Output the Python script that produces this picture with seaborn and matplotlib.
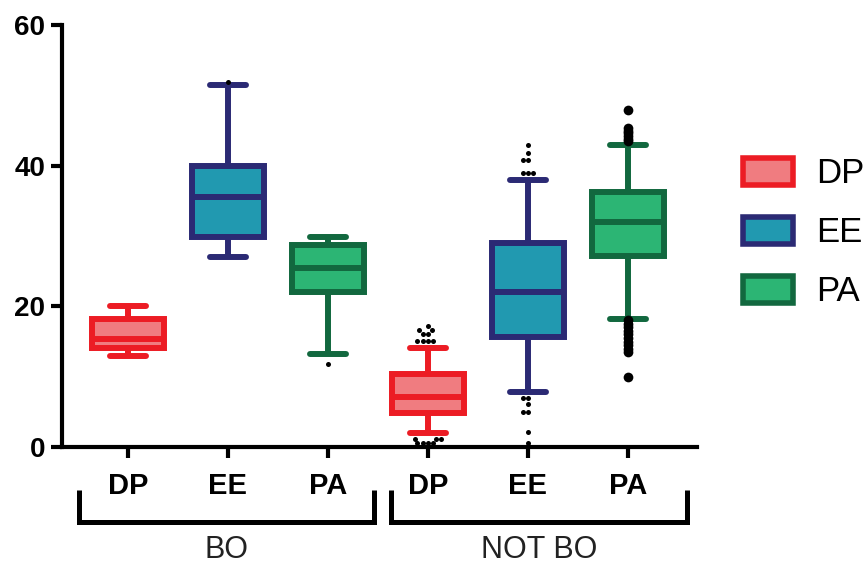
import pandas as pd
import matplotlib.pyplot as plt
from matplotlib.patches import Patch
import seaborn as sns

# ─── DATA ───────────────────────────────────────────────────────
GROUPS   = ["BO", "NOT BO"]
MEASURES = ["DP", "EE", "PA"]

# five-number summaries, one entry per box: BO DP, BO EE, BO PA, NOT BO DP, NOT BO EE, NOT BO PA
WHISK_LO = [12.9, 27.0, 13.2, 2.0, 7.8, 18.2]
Q1       = [14.1, 29.9, 22.0, 4.8, 15.7, 27.1]
MEDIAN   = [15.4, 35.5, 25.4, 7.1, 22.1, 32.0]
Q3       = [18.2, 40.0, 28.7, 10.4, 29.0, 36.3]
WHISK_HI = [20.1, 51.4, 29.9, 14.1, 38.0, 43.0]

# outliers for each box
OUTLIERS = [
    [],
    [51.9],
    [11.8],
    [17.2, 16.6, 16.6, 16.1, 16.1, 15.1, 15.1, 15.1, 15.1,
     1.2, 1.2, 1.2, 0.6, 0.6, 0.6, 0.6],
    [43.0, 41.8, 40.8, 40.8, 39.0, 39.0, 39.0,
     7.0, 7.0, 6.1, 5.0, 5.0, 2.1, 0.5],
    [47.9, 45.4, 45.0, 44.6, 44.2, 43.8, 43.5,
     18.0, 17.5, 17.0, 16.5, 16.0, 15.5, 15.0, 14.5, 14.0, 13.5, 10.0],
]

FILL = {"DP": "#F07C80", "EE": "#2199B0", "PA": "#2CB574"}
EDGE = {"DP": "#EC1C24", "EE": "#2B2A74", "PA": "#12683F"}
# ────────────────────────────────────────────────────────────────

keys, box_group, box_measure = [], [], []
for g in GROUPS:
    for m in MEASURES:
        keys.append(f"{g} {m}")
        box_group.append(g)
        box_measure.append(m)

# five-number summary as data: with whis=(0, 100) the box reproduces it exactly
rows = []
for i, k in enumerate(keys):
    for v in (WHISK_LO[i], Q1[i], MEDIAN[i], Q3[i], WHISK_HI[i]):
        rows.append({"key": k, "measure": box_measure[i], "value": v})
box_df = pd.DataFrame(rows)

out_rows = []
for i, k in enumerate(keys):
    for v in OUTLIERS[i]:
        out_rows.append({"key": k, "measure": box_measure[i], "group": box_group[i], "value": v})
out_df = pd.DataFrame(out_rows)

sns.set_theme(style="ticks")
plt.rcParams["font.family"] = ["Liberation Sans", "DejaVu Sans"]
plt.rcParams.update({
    "axes.edgecolor": "black", "text.color": "black",
    "xtick.color": "black", "ytick.color": "black",
    "xtick.labelcolor": "black", "ytick.labelcolor": "black",
})

fig = plt.figure(figsize=(8.66, 5.64), dpi=100)
ax = fig.add_axes([62 / 866, 117 / 564, 635 / 866, 422 / 564])

for m in MEASURES:
    sns.boxplot(
        data=box_df[box_df["measure"] == m], x="key", y="value", order=keys,
        color=FILL[m], linecolor=EDGE[m], saturation=1, linewidth=4.3,
        width=0.72, whis=(0, 100), showfliers=False, ax=ax,
    )

# small outliers spread sideways, the big NOT BO PA ones stacked in a column
small = out_df[~((out_df["group"] == "NOT BO") & (out_df["measure"] == "PA"))]
big = out_df[(out_df["group"] == "NOT BO") & (out_df["measure"] == "PA")]
sns.swarmplot(data=small, x="key", y="value", order=keys, color="black",
              size=3.6, ax=ax, clip_on=False, zorder=5)
sns.stripplot(data=big, x="key", y="value", order=keys, color="black",
              size=7, jitter=False, ax=ax, clip_on=False, zorder=5)

ax.set_xlim(-0.66, 5.69)
ax.set_ylim(0, 60)
ax.set_yticks([0, 20, 40, 60])
ax.set_xticks(range(len(keys)))
ax.set_xticklabels(box_measure)
ax.set_xlabel("")
ax.set_ylabel("")
sns.despine(ax=ax)
for s in ("left", "bottom"):
    ax.spines[s].set_linewidth(3)
    ax.spines[s].set_color("black")
ax.tick_params(axis="both", length=8, width=3, direction="out", color="black")
ax.tick_params(axis="y", labelsize=20, pad=4)
ax.tick_params(axis="x", labelsize=21, pad=10)
for lab in ax.get_xticklabels() + ax.get_yticklabels():
    lab.set_fontweight("bold")

# group brackets under the tick labels
tr = ax.get_xaxis_transform()
brackets = {"BO": (-0.49, 2.46), "NOT BO": (2.63, 5.59)}
for g in GROUPS:
    x0, x1 = brackets[g]
    ax.plot([x0, x0, x1, x1], [-0.102, -0.178, -0.178, -0.102], transform=tr,
            color="black", lw=3.6, clip_on=False, solid_joinstyle="miter",
            solid_capstyle="butt")
    ax.text((x0 + x1) / 2, -0.245, g, transform=tr, ha="center", va="center",
            fontsize=22, color="#222222")

handles = [Patch(facecolor=FILL[m], edgecolor=EDGE[m], linewidth=4, label=m)
           for m in MEASURES]
fig.legend(handles=handles, loc="center left", bbox_to_anchor=(743 / 866, 0.587),
           frameon=False, fontsize=25, handlelength=1.45, handleheight=0.8,
           handletextpad=0.65, labelspacing=0.75, borderpad=0, borderaxespad=0)

fig.savefig("out.png", dpi=100)
